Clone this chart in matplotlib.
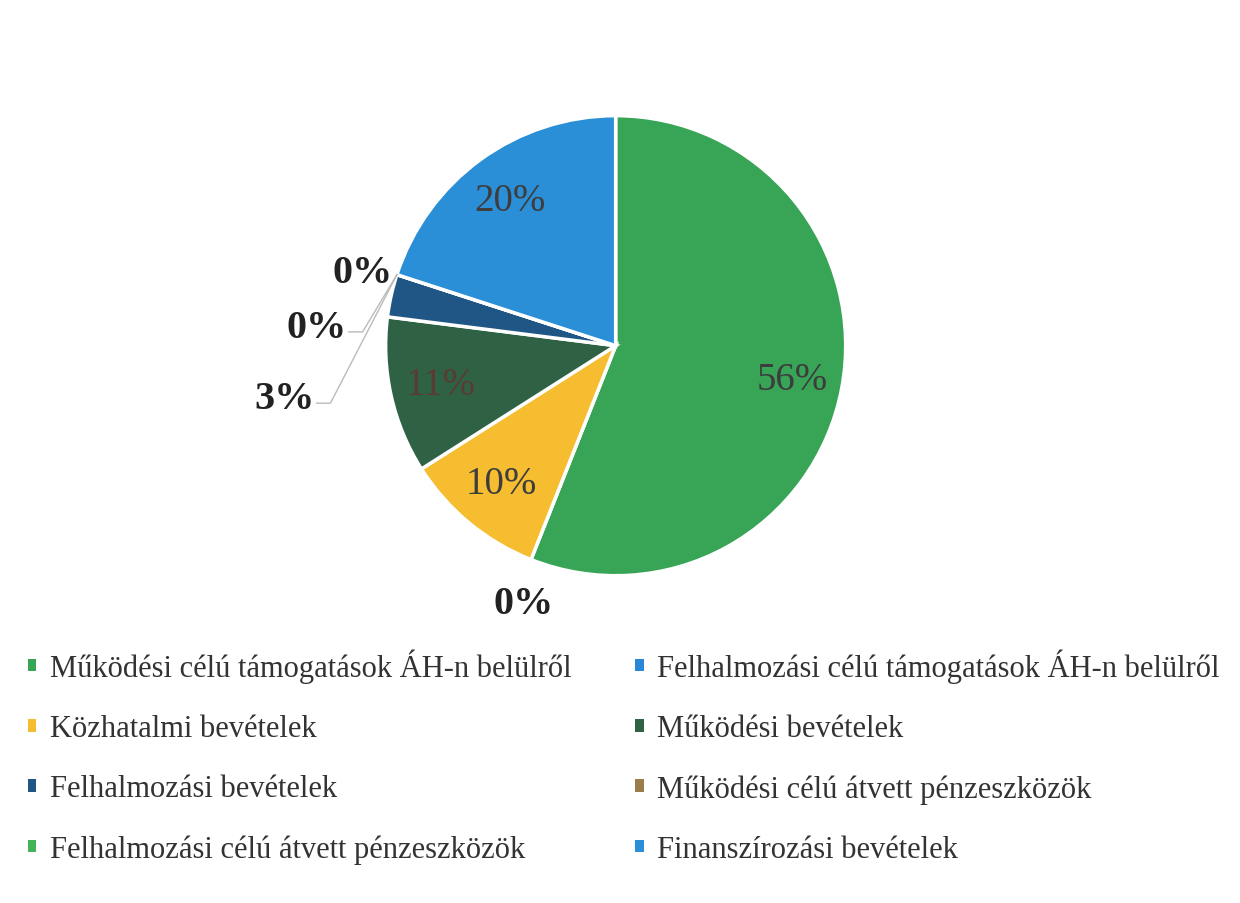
import numpy as np
import matplotlib.pyplot as plt
from matplotlib.patches import Patch

plt.rcParams['font.family'] = ['Liberation Serif', 'DejaVu Serif']

# data (percent share)
categories = [
    'Működési célú támogatások ÁH-n belülről',
    'Felhalmozási célú támogatások ÁH-n belülről',
    'Közhatalmi bevételek',
    'Működési bevételek',
    'Felhalmozási bevételek',
    'Működési célú átvett pénzeszközök',
    'Felhalmozási célú átvett pénzeszközök',
    'Finanszírozási bevételek',
]
shares = [56, 0, 10, 11, 3, 0, 0, 20]
colors = ['#38a556', '#2a86d6', '#f5bd2f', '#2f6144', '#1f5685',
          '#9a7d4a', '#45b35a', '#2b8fd8']

fig = plt.figure(figsize=(12.4, 9.04), dpi=100)
ax = fig.add_axes([0.311, 0.362, 0.371, 0.509])

wedges, _ = ax.pie(shares, colors=colors, startangle=90, counterclock=False,
                   radius=1, wedgeprops=dict(edgecolor='white', linewidth=2.5))
ax.set_xlim(-1, 1)
ax.set_ylim(-1, 1)
ax.set_aspect('equal')

# labels inside the big slices
inner_color = {0: '#3d3d3d', 2: '#3d3d3d', 3: '#5a3b33', 7: '#3d3d3d'}
for i, c in inner_color.items():
    w = wedges[i]
    ang = np.deg2rad((w.theta1 + w.theta2) / 2)
    r = 0.78
    ax.text(r * np.cos(ang), r * np.sin(ang), f'{shares[i]}%', color=c,
            fontsize=28, ha='center', va='center')

# zero share slice at the bottom
ax.text(-0.40, -1.12, f'{shares[1]}%', fontsize=29, fontweight='bold',
        color='#222222', ha='center', va='center')

# small slices at the left with leader lines
outer = [(6, -0.97, 0.32, False), (5, -1.17, 0.08, True), (4, -1.31, -0.23, True)]
for i, lx, ly, line in outer:
    w = wedges[i]
    ang = np.deg2rad(w.theta1)
    ex, ey = np.cos(ang), np.sin(ang)
    ax.text(lx, ly, f'{shares[i]}%', fontsize=29, fontweight='bold',
            color='#222222', ha='right', va='center')
    if line:
        ax.plot([ex, lx + 0.07, lx + 0.01], [ey, ly - 0.02, ly - 0.02],
                color='#bbbbbb', lw=1, clip_on=False)

# legend, filled row by row
order = [0, 2, 4, 6, 1, 3, 5, 7]
handles = [Patch(facecolor=colors[k], edgecolor='none') for k in order]
labels = [categories[k] for k in order]
fig.legend(handles, labels, ncol=2, loc='upper left',
           bbox_to_anchor=(0.0, 0.312), frameon=False, fontsize=22,
           handlelength=0.27, handleheight=0.27, handletextpad=0.45,
           labelspacing=1.02, columnspacing=2.1, labelcolor='#333333')

fig.savefig('out.png', dpi=100, facecolor='white')
